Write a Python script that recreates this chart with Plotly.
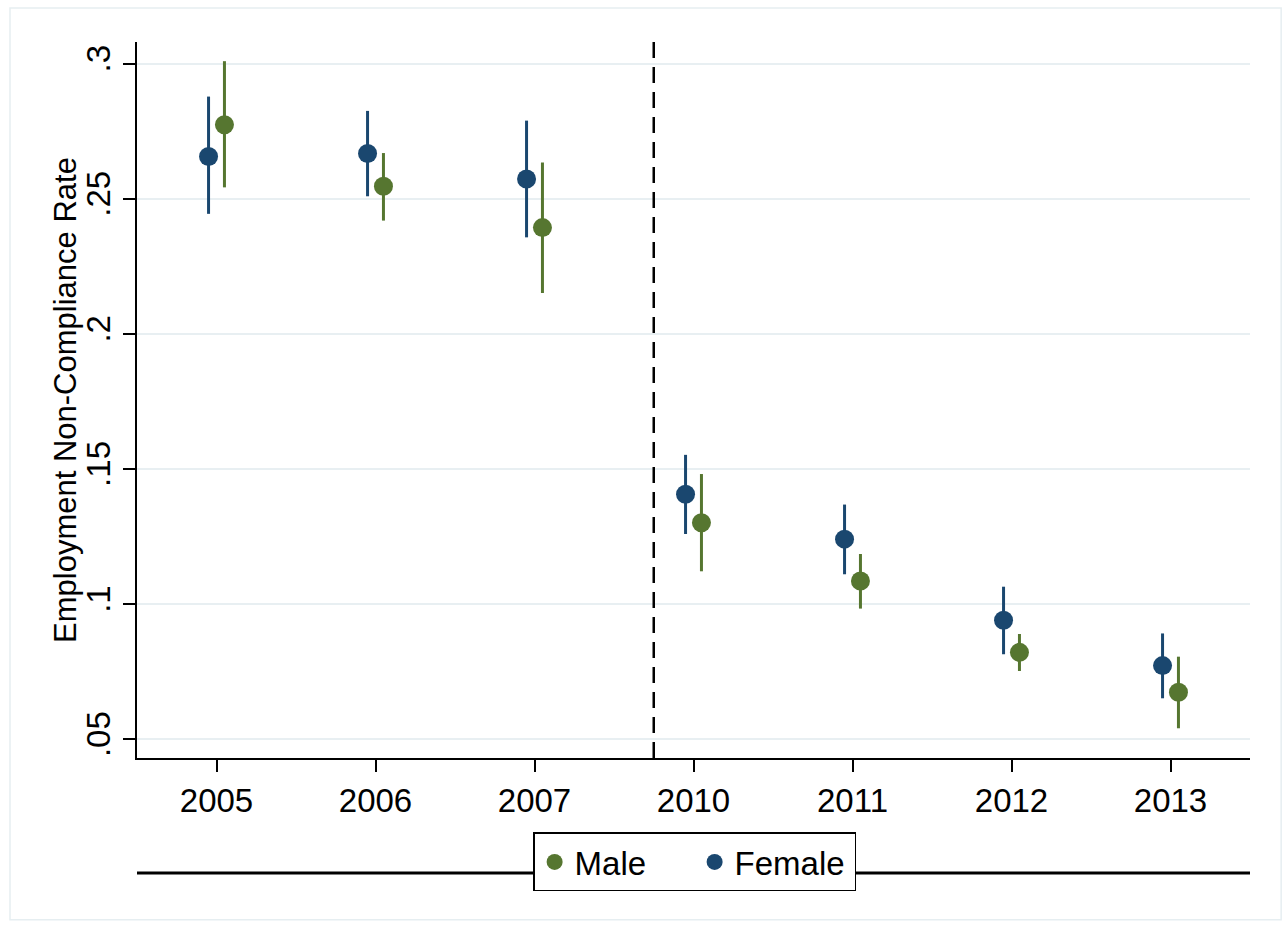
import plotly.graph_objects as go

# Survey years shown on the x axis
years = ["2005", "2006", "2007", "2010", "2011", "2012", "2013"]

# Point estimates and 95% confidence bounds by sex
male = [0.2774, 0.2546, 0.2393, 0.1301, 0.1085, 0.0821, 0.0673]
male_lo = [0.2542, 0.2419, 0.2151, 0.1121, 0.0983, 0.0752, 0.0540]
male_hi = [0.3009, 0.2669, 0.2634, 0.1481, 0.1185, 0.0889, 0.0805]

female = [0.2656, 0.2667, 0.2573, 0.1406, 0.1240, 0.0940, 0.0772]
female_lo = [0.2444, 0.2509, 0.2357, 0.1259, 0.1110, 0.0814, 0.0651]
female_hi = [0.2878, 0.2825, 0.2789, 0.1552, 0.1368, 0.1064, 0.0891]

# Policy break drawn between 2007 and 2010 (in category-index units)
break_pos = 2.75

GREEN = "#567630"
NAVY = "#1a476f"
FONT = "Liberation Sans, Arial, Helvetica, sans-serif"

idx = list(range(len(years)))
shift = 0.05


def series(name, vals, lo, hi, color, dx):
    return go.Scatter(
        x=[i + dx for i in idx],
        y=vals,
        mode="markers",
        name=name,
        marker=dict(color=color, size=19, line=dict(width=0)),
        error_y=dict(
            type="data",
            symmetric=False,
            array=[h - v for h, v in zip(hi, vals)],
            arrayminus=[v - l for v, l in zip(vals, lo)],
            color=color,
            thickness=3,
            width=0,
        ),
    )


fig = go.Figure()
fig.add_trace(series("Male", male, male_lo, male_hi, GREEN, shift))
fig.add_trace(series("Female", female, female_lo, female_hi, NAVY, -shift))

# vertical dashed break line
fig.add_shape(
    type="line", xref="x", yref="paper",
    x0=break_pos, x1=break_pos, y0=0, y1=1,
    line=dict(color="black", width=2.5, dash="16px,9px"),
)

# rule under the axis that the legend box sits on
fig.add_shape(
    type="line", xref="paper", yref="paper",
    x0=0, x1=1, y0=-0.1606, y1=-0.1606,
    line=dict(color="black", width=3),
)

# faint outer frame of the graph region
fig.add_shape(
    type="rect", xref="paper", yref="paper",
    x0=-0.1141, x1=1.028, y0=-0.226, y1=1.0475,
    line=dict(color="#e6eef1", width=1.5),
    layer="below",
)

# y-axis title placed as rotated text
fig.add_annotation(
    text="Employment Non-Compliance Rate",
    xref="paper", yref="paper",
    x=-0.0647, y=0.5,
    xanchor="center", yanchor="middle",
    textangle=-90,
    showarrow=False,
    font=dict(size=31, family=FONT, color="black"),
)

fig.update_layout(
    width=1285,
    height=930,
    margin=dict(l=137, r=35, t=42, b=172),
    paper_bgcolor="white",
    plot_bgcolor="white",
    font=dict(family=FONT, color="black", size=33),
    showlegend=True,
    legend=dict(
        orientation="h",
        x=0.501, xanchor="center",
        y=-0.104, yanchor="top",
        bgcolor="white",
        bordercolor="black",
        borderwidth=1.5,
        font=dict(size=33, family=FONT),
        itemsizing="trace",
        entrywidth=115,
        entrywidthmode="pixels",
        traceorder="normal",
    ),
    xaxis=dict(
        range=[-0.5, 6.5],
        tickmode="array",
        tickvals=idx,
        ticktext=years,
        showgrid=False,
        zeroline=False,
        showline=True,
        linecolor="black",
        linewidth=2,
        ticks="outside",
        ticklen=12,
        tickwidth=1.5,
        tickcolor="black",
        tickfont=dict(size=33),
    ),
    yaxis=dict(
        range=[0.043, 0.308],
        tickmode="array",
        tickvals=[0.05, 0.1, 0.15, 0.2, 0.25, 0.3],
        ticktext=[".05", ".1", ".15", ".2", ".25", ".3"],
        tickangle=-90,
        showgrid=True,
        gridcolor="#e8eff2",
        gridwidth=2,
        zeroline=False,
        showline=True,
        linecolor="black",
        linewidth=2,
        ticks="outside",
        ticklen=12,
        tickwidth=1.5,
        tickcolor="black",
        tickfont=dict(size=33),
    ),
)

fig.write_html("out.html")
